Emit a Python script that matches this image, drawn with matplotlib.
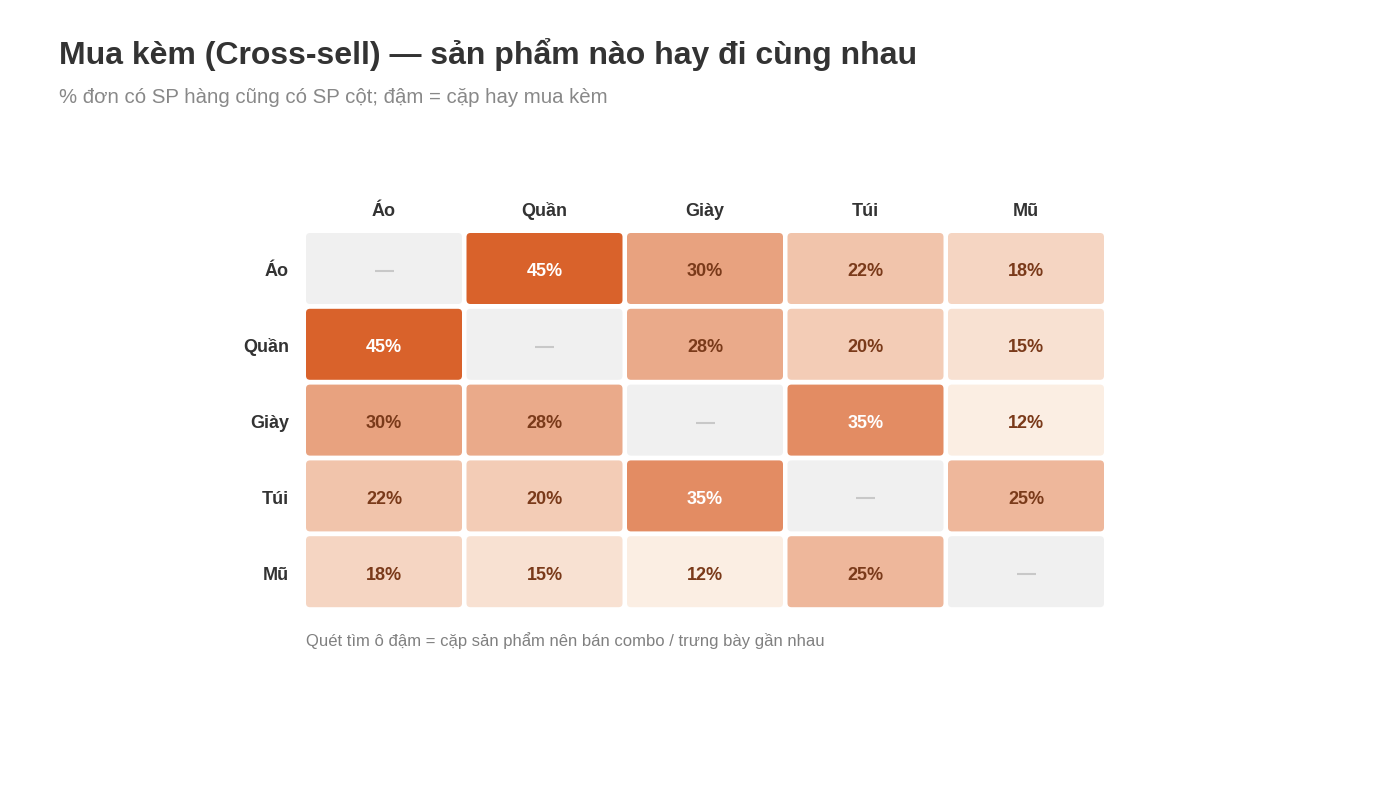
import numpy as np
import matplotlib.pyplot as plt
from matplotlib.patches import FancyBboxPatch
from matplotlib.colors import LinearSegmentedColormap, Normalize

plt.rcParams['font.family'] = ['Liberation Sans', 'DejaVu Sans']

products = ['Áo', 'Quần', 'Giày', 'Túi', 'Mũ']
# % đơn có SP hàng cũng có SP cột (None = đường chéo)
pct = [
    [None, 45, 30, 22, 18],
    [45, None, 28, 20, 15],
    [30, 28, None, 35, 12],
    [22, 20, 35, None, 25],
    [18, 15, 12, 25, None],
]

title = 'Mua kèm (Cross-sell) — sản phẩm nào hay đi cùng nhau'
subtitle = '% đơn có SP hàng cũng có SP cột; đậm = cặp hay mua kèm'
note = 'Quét tìm ô đậm = cặp sản phẩm nên bán combo / trưng bày gần nhau'

W, H = 1400, 787
fig = plt.figure(figsize=(W / 100, H / 100), dpi=100)
fig.patch.set_facecolor('white')

# cell grid area in pixels; axes data units = pixels
pw, ph = 160.5, 75.8      # pitch
cw, ch = 156, 71          # cell size
n = len(products)
x0, y0 = 306, 233
ax = fig.add_axes([x0 / W, 1 - (y0 + n * ph) / H, n * pw / W, n * ph / H])
ax.set_xlim(0, n * pw)
ax.set_ylim(n * ph, 0)
ax.axis('off')

cmap = LinearSegmentedColormap.from_list('xs', ['#FBEEE3', '#D9622B'])
vals = [v for row in pct for v in row if v is not None]
norm = Normalize(min(vals), max(vals))

r = 4
for i, row in enumerate(pct):
    for j, v in enumerate(row):
        color = '#F0F0F0' if v is None else cmap(norm(v))
        p = FancyBboxPatch((j * pw + r, i * ph + r), cw - 2 * r, ch - 2 * r,
                           boxstyle='round,pad=%f,rounding_size=%f' % (r, r),
                           fc=color, ec='none')
        ax.add_patch(p)
        cx = j * pw + cw / 2
        cy = i * ph + ch / 2
        if v is None:
            ax.plot([cx - 9.5, cx + 9.5], [cy + 2.5, cy + 2.5], color='#C8C8C8', lw=1.5,
                    solid_capstyle='butt')
        else:
            tc = 'white' if v >= 35 else '#7A3A1A'
            ax.text(cx, cy + 8, '%d%%' % v, ha='center', va='baseline', fontsize=13,
                    fontweight='bold', color=tc)

for j, name in enumerate(products):
    ax.text(j * pw + cw / 2, -17, name, ha='center', va='baseline', fontsize=13,
            fontweight='bold', color='#333333')
    ax.text(-17, j * ph + ch / 2 + 8, name, ha='right', va='baseline', fontsize=13,
            fontweight='bold', color='#333333')

fig.text(59 / W, 1 - 64 / H, title, ha='left', va='baseline', fontsize=23,
         fontweight='bold', color='#333333')
fig.text(59 / W, 1 - 103 / H, subtitle, ha='left', va='baseline', fontsize=14.65,
         color='#888888')
fig.text(306 / W, 1 - 646 / H, note, ha='left', va='baseline', fontsize=12,
         color='#808080')

fig.savefig('out.png', dpi=100, facecolor='white')
